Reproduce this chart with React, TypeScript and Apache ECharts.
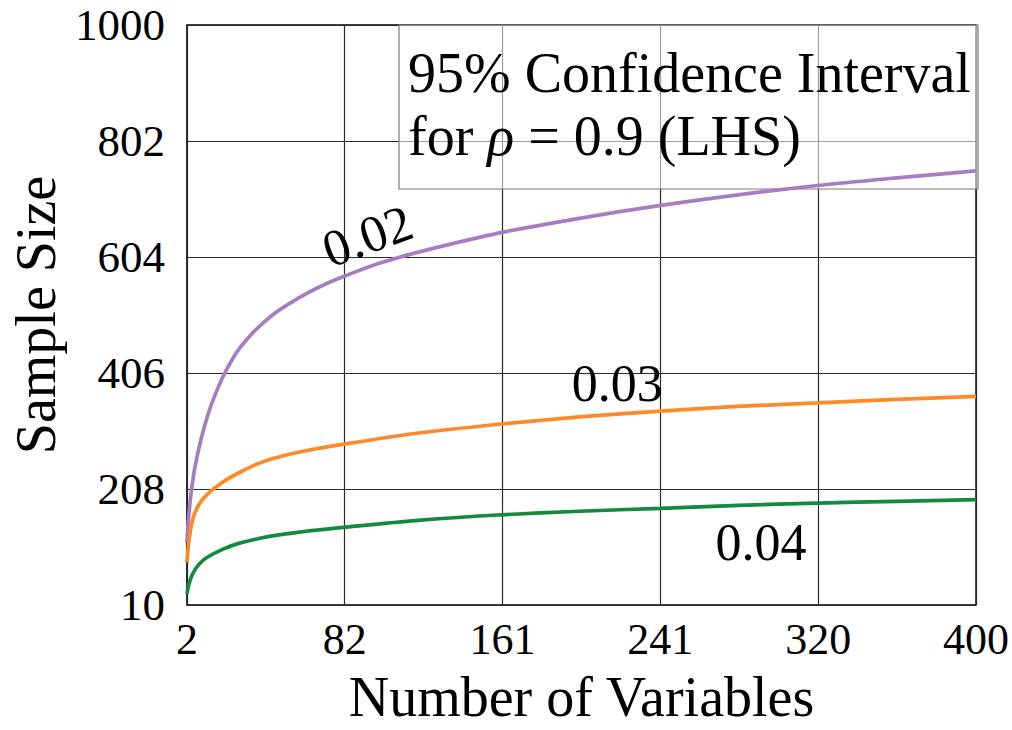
import React, { useEffect, useRef } from "react";
import * as echarts from "echarts";

const xTickValues = [2, 81.6, 161.2, 240.8, 320.4, 400];
const yTickValues = [10, 208, 406, 604, 802, 1000];

const purpleX = [2, 3, 4, 5, 6, 8, 10, 12, 14, 17, 20.5, 25, 29, 35, 40, 45.5, 52, 62.5, 72, 82, 96, 114, 135, 161, 200, 241, 280, 320, 360, 400];
const purpleY = [117, 165, 198, 223, 244, 277, 304, 328, 349, 375, 402, 430, 450, 474, 490, 506, 521, 542, 558, 572, 590, 608, 626, 646, 670, 692, 710, 726, 739, 751];

const orangeX = [2, 3, 4, 5.5, 8, 12, 17, 22, 29, 37, 45.5, 60, 82, 120, 161, 200, 241, 280, 320, 360, 400];
const orangeY = [83, 118, 141, 162, 181, 198, 212, 224, 237, 250, 260, 272, 285, 304, 319, 331, 341, 349, 355, 361, 366];

const greenX = [2, 3, 4, 5.5, 8, 12, 20, 29, 45, 60, 82, 120, 161, 200, 241, 280, 320, 360, 400];
const greenY = [29, 45, 56, 67, 79, 91, 105, 116, 128, 135, 143, 155, 164, 170, 175, 180, 184, 187, 190];

const curveNames = ["0.02", "0.03", "0.04"];
const curveColors = ["#a67cc3", "#fd8a27", "#138a3e"];
const labelCoords = [
  [93, 640],
  [219, 388],
  [291.5, 116],
];
const labelRotate = [20, 0, 0];

const FONT = "Liberation Serif";

function pairs(xs: number[], ys: number[]) {
  return xs.map((x, i) => [x, ys[i]]);
}

export default function App() {
  const ref = useRef<HTMLDivElement>(null);

  useEffect(() => {
    if (!ref.current) return;
    const chart = echarts.init(ref.current, undefined, { renderer: "svg" });
    const seriesData = [
      pairs(purpleX, purpleY),
      pairs(orangeX, orangeY),
      pairs(greenX, greenY),
    ];
    chart.setOption({
      animation: false,
      backgroundColor: "#ffffff",
      textStyle: { fontFamily: FONT },
      grid: {
        left: 182,
        top: 25,
        width: 796,
        height: 581,
        show: true,
        borderColor: "#000",
        borderWidth: 1.4,
        backgroundColor: "transparent",
      },
      xAxis: {
        type: "value",
        min: 2,
        max: 400,
        name: "Number of Variables",
        nameLocation: "middle",
        nameGap: 64,
        nameTextStyle: { fontFamily: FONT, fontSize: 56, color: "#000" },
        axisLine: { show: false },
        axisTick: { show: false, customValues: xTickValues },
        axisLabel: {
          customValues: xTickValues,
          formatter: (v: number) => String(Math.round(v)),
          fontFamily: FONT,
          fontSize: 44,
          color: "#000",
          margin: 12,
        },
        splitLine: { show: true, lineStyle: { color: "#2a2a2a", width: 1.2 } },
      },
      yAxis: {
        type: "value",
        min: 10,
        max: 1000,
        name: "Sample Size",
        nameLocation: "middle",
        nameGap: 120,
        nameTextStyle: { fontFamily: FONT, fontSize: 56, color: "#000" },
        axisLine: { show: false },
        axisTick: { show: false, customValues: yTickValues },
        axisLabel: {
          customValues: yTickValues,
          formatter: (v: number) => String(Math.round(v)),
          fontFamily: FONT,
          fontSize: 45,
          color: "#000",
          margin: 22,
        },
        splitLine: { show: true, lineStyle: { color: "#2a2a2a", width: 1.2 } },
      },
      series: curveNames.map((name, i) => ({
        name,
        type: "line",
        data: seriesData[i],
        smooth: 0.3,
        showSymbol: false,
        symbol: "none",
        lineStyle: { color: curveColors[i], width: 3.7 },
        z: 5,
        markPoint: {
          symbol: "circle",
          symbolSize: 0,
          silent: true,
          data: [
            {
              coord: labelCoords[i],
              value: name,
              label: {
                show: true,
                position: "inside",
                formatter: name,
                rotate: labelRotate[i],
                fontFamily: FONT,
                fontSize: 52,
                color: "#000",
              },
            },
          ],
        },
      })),
      graphic: [
        {
          type: "rect",
          z: 1,
          shape: { x: 399, y: 25, width: 579, height: 164 },
          style: { fill: "rgba(255,255,255,0.55)", stroke: "#7a7a7a", lineWidth: 1.2 },
        },
        {
          type: "text",
          z: 101,
          x: 408,
          y: 73,
          style: {
            text: "95% Confidence Interval",
            fontFamily: FONT,
            fontSize: 56,
            fill: "#000",
            verticalAlign: "middle",
            align: "left",
          },
        },
        {
          type: "text",
          z: 101,
          x: 408,
          y: 136,
          style: {
            text: "{a|for }{b|ρ}{a| = 0.9 (LHS)}",
            fontFamily: FONT,
            fontSize: 56,
            verticalAlign: "middle",
            align: "left",
            fill: "#000",
            rich: {
              a: { fontFamily: FONT, fontSize: 56, fill: "#000" },
              b: { fontFamily: FONT, fontSize: 56, fontStyle: "italic", fill: "#000" },
            },
          },
        },
      ],
    });
    return () => chart.dispose();
  }, []);

  return (
    <div
      ref={ref}
      style={{ position: "absolute", left: 0, top: 0, width: 1012, height: 730, background: "#fff" }}
    />
  );
}
